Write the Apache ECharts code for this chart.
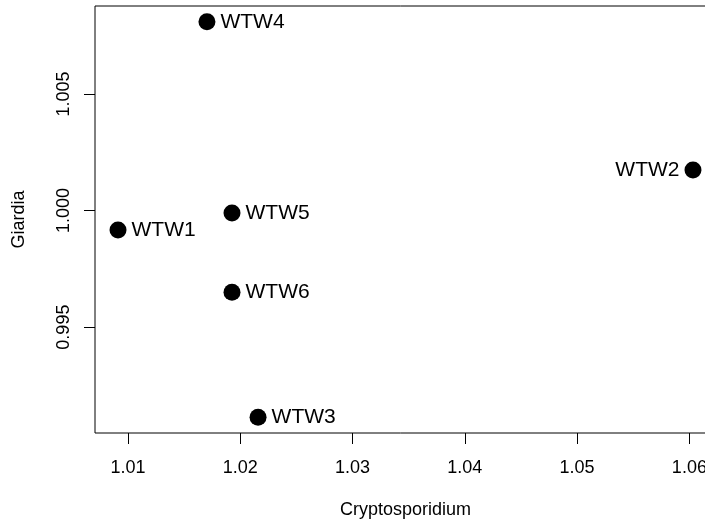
<!DOCTYPE html>
<html>
<head>
<meta charset="utf-8">
<script src="https://cdn.jsdelivr.net/npm/echarts@6/dist/echarts.min.js"></script>
<style>html,body{margin:0;padding:0;background:#fff;}#c{width:705px;height:522px;}</style>
</head>
<body>
<div id="c"></div>
<script>
var names = ['WTW1', 'WTW2', 'WTW3', 'WTW4', 'WTW5', 'WTW6'];
var cryptoVals = [1.00912, 1.06032, 1.02159, 1.01704, 1.01927, 1.01927];
var giardiaVals = [0.99916, 1.00174, 0.99114, 1.00809, 0.99989, 0.99650];
var labelSide = ['right', 'left', 'right', 'right', 'right', 'right'];
var xTicks = [1.01, 1.02, 1.03, 1.04, 1.05, 1.06];
var yTicks = [0.995, 1.000, 1.005];

var FONT = '"Liberation Sans", Arial, Helvetica, sans-serif';
var data = names.map(function (n, i) {
  return {
    name: n,
    value: [cryptoVals[i], giardiaVals[i]],
    label: { position: labelSide[i] }
  };
});

var chart = echarts.init(document.getElementById('c'));
chart.setOption({
  animation: false,
  backgroundColor: '#fff',
  grid: {
    left: 95, top: 6, width: 621, height: 427,
    outerBoundsMode: 'none',
    containLabel: false,
    show: true, borderColor: '#000', borderWidth: 1, backgroundColor: 'transparent'
  },
  xAxis: {
    type: 'value',
    min: 1.00707, max: 1.06237,
    name: 'Cryptosporidium',
    nameLocation: 'middle',
    nameGap: 68,
    nameTextStyle: { color: '#000', fontSize: 18, fontFamily: FONT },
    axisLine: { show: false },
    splitLine: { show: false },
    axisTick: { show: true, inside: false, length: 11, lineStyle: { color: '#000' }, customValues: xTicks },
    axisLabel: {
      color: '#000', fontSize: 18, fontFamily: FONT, margin: 26,
      customValues: xTicks,
      formatter: function (v) { return v.toFixed(2); }
    }
  },
  yAxis: {
    type: 'value',
    min: 0.99046, max: 1.00877,
    name: 'Giardia',
    nameLocation: 'middle',
    nameGap: 67,
    nameRotate: 90,
    nameTextStyle: { color: '#000', fontSize: 18, fontFamily: FONT },
    axisLine: { show: false },
    splitLine: { show: false },
    axisTick: { show: true, inside: false, length: 11, lineStyle: { color: '#000' }, customValues: yTicks },
    axisLabel: {
      color: '#000', fontSize: 18, fontFamily: FONT, margin: 22, rotate: 90,
      customValues: yTicks,
      formatter: function (v) { return v.toFixed(3); }
    }
  },
  series: [{
    type: 'scatter',
    symbol: 'circle',
    symbolSize: 17,
    clip: false,
    itemStyle: { color: '#000', opacity: 1 },
    label: {
      show: true,
      distance: 5,
      color: '#000',
      opacity: 1,
      fontSize: 21,
      fontFamily: FONT,
      formatter: function (p) { return p.name; }
    },
    emphasis: { disabled: true },
    data: data
  }]
});
</script>
</body>
</html>
